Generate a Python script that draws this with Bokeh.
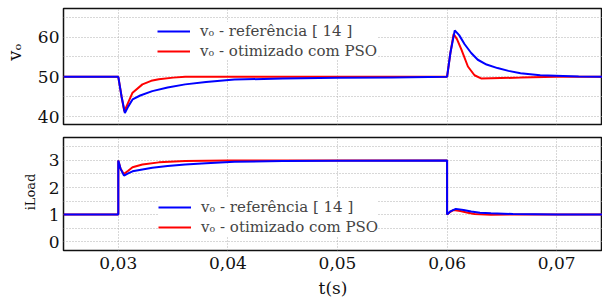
from bokeh.plotting import figure
from bokeh.layouts import column
from bokeh.models import FixedTicker, CustomJSTickFormatter, Legend, LegendItem, Range1d
from bokeh.embed import file_html
from bokeh.resources import INLINE

# ---- data ----
x_ticks = [0.03, 0.04, 0.05, 0.06, 0.07]
vo_ticks = [40, 50, 60]
vo_grid = [40, 45, 50, 55, 60, 65]
i_ticks = [0, 1, 2, 3]
i_grid = [0, 0.5, 1, 1.5, 2, 2.5, 3, 3.5]

t_vo_ref = [0.025, 0.0300, 0.0303, 0.0306, 0.0309, 0.0313, 0.0320, 0.0331, 0.0345, 0.0361,
            0.0380, 0.0406, 0.0450, 0.0500, 0.0550, 0.0600, 0.0603, 0.0607, 0.0611, 0.0616,
            0.0622, 0.0628, 0.0636, 0.0646, 0.0656, 0.0667, 0.0685, 0.0720, 0.0745]
vo_ref = [50, 50, 45.0, 40.9, 42.5, 44.3, 45.3, 46.4, 47.3, 48.1,
          48.7, 49.3, 49.6, 49.75, 49.85, 50.0, 56.0, 61.7, 60.5, 58.2,
          56.0, 54.3, 53.1, 52.2, 51.5, 50.9, 50.4, 50.1, 50.0]

t_vo_pso = [0.025, 0.0300, 0.0303, 0.03055, 0.0309, 0.0313, 0.0322, 0.0330, 0.0337, 0.0350,
            0.0361, 0.0400, 0.0600, 0.0603, 0.0606, 0.0609, 0.0613, 0.0619, 0.0625, 0.0631,
            0.0640, 0.0667, 0.0700, 0.0745]
vo_pso = [50, 50, 45.0, 41.3, 43.5, 46.0, 48.1, 49.0, 49.4, 49.8,
          50.0, 50.05, 50.05, 56.0, 60.8, 59.5, 56.9, 52.6, 50.4, 49.6,
          49.65, 49.8, 50.0, 50.0]

t_i_ref = [0.025, 0.0300, 0.0300, 0.0302, 0.03052, 0.0309, 0.0313, 0.0322, 0.0331, 0.0345,
           0.0361, 0.0380, 0.0406, 0.0450, 0.0500, 0.0600, 0.0600, 0.0603, 0.0608, 0.0615,
           0.0622, 0.0630, 0.0640, 0.0660, 0.0700, 0.0745]
i_ref = [1, 1, 3.0, 2.7, 2.44, 2.52, 2.6, 2.67, 2.73, 2.8,
         2.85, 2.9, 2.95, 2.98, 2.99, 3.0, 1.0, 1.12, 1.21, 1.17,
         1.11, 1.07, 1.05, 1.02, 1.0, 1.0]

t_i_pso = [0.025, 0.0300, 0.0300, 0.0302, 0.0305, 0.0309, 0.0313, 0.0322, 0.0337, 0.0361,
           0.0400, 0.0600, 0.0600, 0.0603, 0.0606, 0.0612, 0.0619, 0.0625, 0.0640, 0.0660,
           0.0745]
i_pso = [1, 1, 3.0, 2.7, 2.5, 2.62, 2.75, 2.85, 2.93, 2.98,
         3.0, 3.0, 1.0, 1.1, 1.17, 1.13, 1.07, 1.02, 0.99, 1.0,
         1.0]

label_ref = "vₒ - referência [ 14 ]"
label_pso = "vₒ - otimizado com PSO"
ylabel_top = "vₒ"
ylabel_bottom = "iLoad"
xlabel = "t(s)"

FONT = "DejaVu Serif"
BLUE = "#0000ff"
RED = "#ff0000"
GRID = "#b0b0b0"
NBSP = "\u00a0"

x_range = Range1d(0.025, 0.07418)


def style(p, yticks, ygrid):
    p.outline_line_color = "#111111"
    p.outline_line_width = 1.5
    p.background_fill_color = "white"
    p.border_fill_color = "white"
    for ax in p.axis:
        ax.axis_line_color = None
        ax.major_tick_line_color = None
        ax.minor_tick_line_color = None
        ax.major_tick_out = 0
        ax.major_tick_in = 0
        ax.minor_tick_out = 0
        ax.minor_tick_in = 0
        ax.major_label_text_font = FONT
        ax.major_label_text_font_size = "17px"
        ax.major_label_text_color = "#111111"
        ax.axis_label_text_font = FONT
        ax.axis_label_text_font_style = "normal"
        ax.axis_label_text_color = "#111111"
    p.yaxis.ticker = FixedTicker(ticks=yticks, minor_ticks=ygrid)
    p.xaxis.ticker = FixedTicker(ticks=x_ticks, minor_ticks=[])
    p.xaxis.formatter = CustomJSTickFormatter(code="return tick.toFixed(2).replace('.', ',');")
    p.yaxis.major_label_standoff = 4
    p.ygrid.grid_line_color = None
    p.ygrid.minor_grid_line_color = GRID
    p.ygrid.minor_grid_line_dash = "1 2"
    p.ygrid.minor_grid_line_width = 1
    p.xgrid.grid_line_color = GRID
    p.xgrid.grid_line_dash = "1 2"
    p.xgrid.grid_line_width = 1


def add_legend(p, r_ref, r_pso, x, y):
    leg = Legend(items=[LegendItem(label=label_ref, renderers=[r_ref]),
                        LegendItem(label=label_pso, renderers=[r_pso])],
                 location=(x, y))
    leg.label_text_font = FONT
    leg.label_text_font_size = "15px"
    leg.label_text_color = "#444444"
    leg.border_line_color = None
    leg.background_fill_color = "white"
    leg.background_fill_alpha = 1.0
    leg.glyph_width = 33
    leg.glyph_height = 18
    leg.label_height = 18
    leg.label_standoff = 10
    leg.spacing = 2
    leg.padding = 10
    leg.margin = 0
    p.add_layout(leg, "center")


p1 = figure(width=602, height=130, x_range=x_range, y_range=Range1d(38, 67.2),
            output_backend="svg", toolbar_location=None,
            min_border_left=61, min_border_right=0, min_border_top=8, min_border_bottom=6)
style(p1, vo_ticks, vo_grid)
p1.xaxis.visible = False
# leading no-break spaces lift the rotated label to where the original sits
p1.yaxis.axis_label = NBSP * 5 + ylabel_top
p1.yaxis.axis_label_text_font_size = "18px"
p1.yaxis.axis_label_standoff = 10
r1p = p1.line(t_vo_pso, vo_pso, line_color=RED, line_width=2)
r1r = p1.line(t_vo_ref, vo_ref, line_color=BLUE, line_width=2)
add_legend(p1, r1r, r1p, 94, 64)

p2 = figure(width=602, height=171, x_range=x_range, y_range=Range1d(-0.33, 3.85),
            output_backend="svg", toolbar_location=None,
            min_border_left=61, min_border_right=0, min_border_top=7, min_border_bottom=51)
style(p2, i_ticks, i_grid)
p2.yaxis.axis_label = NBSP + ylabel_bottom
p2.yaxis.axis_label_text_font_size = "13px"
p2.yaxis.axis_label_standoff = 8
p2.xaxis.axis_label = xlabel
p2.xaxis.axis_label_text_font_size = "17px"
p2.xaxis.major_label_standoff = 6
p2.xaxis.axis_label_standoff = 6
r2p = p2.line(t_i_pso, i_pso, line_color=RED, line_width=2)
r2r = p2.line(t_i_ref, i_ref, line_color=BLUE, line_width=2)
add_legend(p2, r2r, r2p, 95, 14)

layout = column(p1, p2, spacing=0)
open("out.html", "w").write(file_html(layout, INLINE))
